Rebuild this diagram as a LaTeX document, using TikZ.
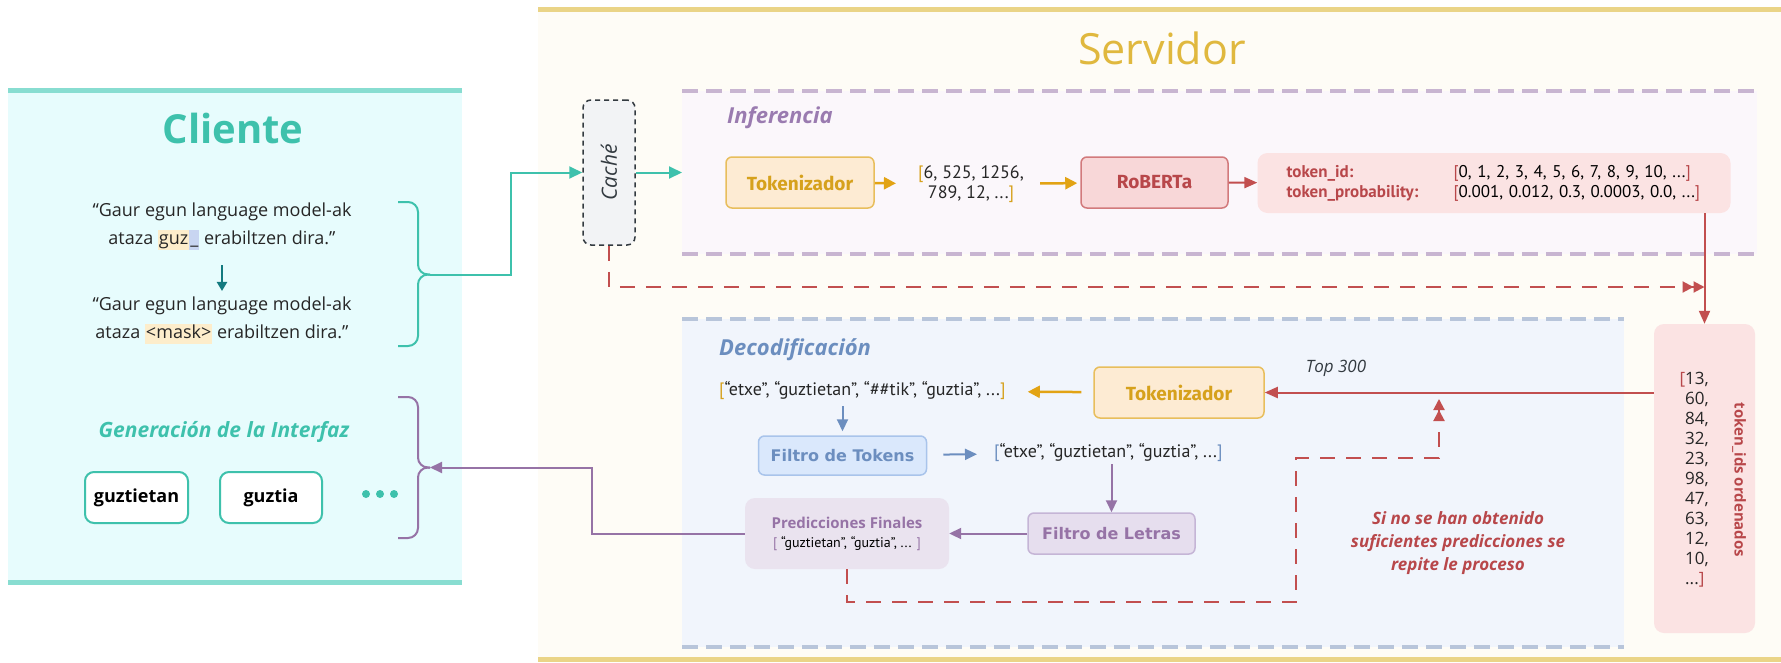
\documentclass[tikz,border=0pt]{standalone}
\usepackage{fontspec}
\setmainfont{Open Sans}
\newfontfamily\narrowfont{PT Sans}
\newfontfamily\boxfont{Fira Sans}
\newfontfamily\widefont{DejaVu Sans}
\usepackage{tikz}
\usetikzlibrary{arrows.meta}
\usetikzlibrary{positioning}
\definecolor{clienteteal}{HTML}{3EC1AC}
\definecolor{clientefill}{HTML}{E7FCFD}
\definecolor{clienteline}{HTML}{88DDD1}
\definecolor{darkteal}{HTML}{137A7F}
\definecolor{servgold}{HTML}{E0B83E}
\definecolor{servline}{HTML}{EAD487}
\definecolor{servfill}{HTML}{FEFCF6}
\definecolor{inferline}{HTML}{C8B5D1}
\definecolor{inferfill}{HTML}{FBF7FB}
\definecolor{infertext}{HTML}{9A7BB0}
\definecolor{decoline}{HTML}{B8C5DA}
\definecolor{decofill}{HTML}{F1F5FC}
\definecolor{decotext}{HTML}{6C8EBF}
\definecolor{tokfill}{HTML}{FDEBD3}
\definecolor{tokline}{HTML}{E8BE5C}
\definecolor{toktext}{HTML}{D6A11C}
\definecolor{tokarrow}{HTML}{E2A314}
\definecolor{robfill}{HTML}{F8D7D8}
\definecolor{robline}{HTML}{D27A7C}
\definecolor{mydarkred}{HTML}{B8474A}
\definecolor{redarrow}{HTML}{C24F4F}
\definecolor{outfill}{HTML}{FBE3E3}
\definecolor{ftokfill}{HTML}{DAE8FC}
\definecolor{ftokline}{HTML}{A9C4EB}
\definecolor{letrafill}{HTML}{E6DEEE}
\definecolor{letraline}{HTML}{C5B5D6}
\definecolor{mypurple}{HTML}{9673A6}
\definecolor{predfill}{HTML}{EAE3EF}
\definecolor{cachefill}{HTML}{F2F3F5}
\definecolor{darkgrey}{HTML}{333A40}
\definecolor{hlorange}{HTML}{FDEDCB}
\definecolor{hlblue}{HTML}{C8D5F1}
\newcommand{\fsize}[2]{\fontsize{#1}{#2}\selectfont}
\newcommand{\marca}[2]{{\setlength{\fboxsep}{1pt}\colorbox{#1}{\vphantom{Ag}#2}}}
\newcommand{\lista}[2]{{\color{#1}[}#2{\color{#1}]}}
\newcommand{\etiqueta}[1]{\makebox[167pt][l]{\color{mydarkred}\bfseries #1}}
\tikzset{
    panel/.style={inner sep=0pt, outer sep=0pt},
    panelline/.style={line width=3.5pt, dash pattern=on 16pt off 8pt},
    roundbox/.style={draw, rounded corners=6pt, line width=1.5pt, inner sep=0pt, align=center},
    tokbox/.style={roundbox, fill=tokfill, draw=tokline, text=toktext, font=\boxfont\bfseries\fsize{19}{22}, minimum height=51pt},
    robbox/.style={roundbox, fill=robfill, draw=robline, text=mydarkred, font=\boxfont\bfseries\fsize{19}{22}, minimum width=147pt, minimum height=51pt},
    filterbox/.style={roundbox, font=\widefont\bfseries\fsize{16}{20}},
    softbox/.style={rounded corners=10pt, inner sep=0pt, align=center},
    btn/.style={draw=clienteteal, line width=2pt, fill=white, rounded corners=9pt, minimum height=51pt, font=\bfseries\fsize{18}{22}},
    sentence/.style={align=center, font=\fsize{18}{28}, text=black!85},
    listtext/.style={font=\narrowfont\fsize{18}{20}, text=black!85, inner sep=0pt, align=center},
    tealline/.style={draw=clienteteal, line width=2pt},
    tealarrow/.style={tealline, -{Triangle[length=13pt,width=12pt]}},
    purpleline/.style={draw=mypurple, line width=2pt},
    purplearrow/.style={purpleline, -{Triangle[length=12pt,width=11pt]}},
    bluearrow/.style={draw=decotext, line width=2pt, -{Triangle[length=12pt,width=11pt]}},
    yellowarrow/.style={draw=tokarrow, line width=2.5pt, -{Triangle[length=12pt,width=12pt]}},
    redarrowstyle/.style={draw=redarrow, line width=2pt, -{Triangle[length=13pt,width=11pt]}},
    reddash/.style={draw=redarrow, line width=2pt, dash pattern=on 15pt off 11pt, -{Triangle[length=11pt,width=11pt]Triangle[length=11pt,width=11pt]}},
    cachebox/.style={draw=darkgrey, fill=cachefill, line width=1.5pt, dash pattern=on 5pt off 4pt, rounded corners=8pt, inner sep=0pt, font=\itshape\fsize{21}{21}, text=darkgrey}
}
\begin{document}
\begin{tikzpicture}[x=1pt, y=-1pt]
\useasboundingbox[fill=white] (0,0) rectangle (1781,662);

\node[panel, fill=clientefill, minimum width=454pt, minimum height=492pt] (cliente) at (235,336) {};
\draw[clienteline, line width=5pt] (cliente.north west) -- (cliente.north east) (cliente.south west) -- (cliente.south east);
\node[panel, fill=servfill, minimum width=1243pt, minimum height=650pt] (servidor) at (1159.5,334) {};
\draw[servline, line width=5pt] (servidor.north west) -- (servidor.north east) (servidor.south west) -- (servidor.south east);
\node[panel, fill=inferfill, minimum width=1075pt, minimum height=163pt] (inferencia) at (1219.5,172.5) {};
\draw[panelline, inferline] (inferencia.north west) -- (inferencia.north east) (inferencia.south west) -- (inferencia.south east);
\node[panel, fill=decofill, minimum width=942pt, minimum height=328pt] (decodif) at (1153,483) {};
\draw[panelline, decoline] (decodif.north west) -- (decodif.north east) (decodif.south west) -- (decodif.south east);

\node[font=\bfseries\fsize{40}{40}, text=clienteteal] (clientetitle) at (233,128) {Cliente};
\node[font=\fsize{43}{43}, text=servgold] (servtitle) at (1162,48) {Servidor};
\node[font=\bfseries\itshape\fsize{22}{22}, text=infertext, anchor=west, inner sep=0pt] (infertitle) at (727,118) {Inferencia};
\node[font=\bfseries\itshape\fsize{22}{22}, text=decotext, anchor=west, inner sep=0pt] (decotitle) at (719,350) {Decodificación};

\node[sentence] (frase1) at (222,226) {“Gaur egun language model-ak\\ataza \marca{hlorange}{guz}\marca{hlblue}{\_} erabiltzen dira.”};
\node[sentence] (frase2) at (222,320) {“Gaur egun language model-ak\\ataza \marca{hlorange}{<mask>} erabiltzen dira.”};
\draw[darkteal, line width=2.5pt, -{Triangle[length=9pt,width=10pt]}, shorten <=12pt, shorten >=2pt] (frase1) -- (frase2);

\node[font=\bfseries\itshape\fsize{21}{21}, text=clienteteal] (generacion) at (224,432) {Generación de la Interfaz};
\node[btn, minimum width=103pt] (btn1) at (136.5,497.5) {guztietan};
\node[btn, minimum width=102pt, right=30pt of btn1] (btn2) {guztia};
\foreach \dx in {366,380,394}
    \fill[clienteteal] (\dx,494) circle (4pt);

\coordinate (c1top) at (398,202);
\coordinate (c1bot) at (398,346);
\coordinate (c1tip) at (430,274.5);
\coordinate (c1bend) at (511,172.5);
\draw[tealline, rounded corners=10pt] (c1top) -| (418,274.5) -- (c1tip);
\draw[tealline, rounded corners=10pt] (c1bot) -| (418,274.5) -- (c1tip);

\coordinate (c2top) at (398,397);
\coordinate (c2bot) at (398,538);
\coordinate (c2tip) at (430,467.5);
\coordinate (c2bend) at (592,467.5);
\draw[purpleline, rounded corners=10pt] (c2top) -| (418,467.5) -- (c2tip);
\draw[purpleline, rounded corners=10pt] (c2bot) -| (418,467.5) -- (c2tip);

\node[cachebox, minimum width=52pt, minimum height=145pt] (cache) at (609,172.5) {\rotatebox{90}{Caché}};

\node[tokbox, minimum width=148pt] (tok1) at (800,182.5) {Tokenizador};
\node[listtext] (ids1) at (971,184) {{\color{toktext}[}6, 525, 1256,\\789, 12, ...{\color{toktext}]}};
\node[robbox] (roberta) at (1154.5,182.5) {RoBERTa};
\node[softbox, fill=outfill, minimum width=473pt, minimum height=60pt, text width=415pt, align=left, font=\narrowfont\fsize{17}{20}] (salida) at (1494,183) {%
    \etiqueta{token\_id:}\lista{mydarkred}{0, 1, 2, 3, 4, 5, 6, 7, 8, 9, 10, ...}\\
    \etiqueta{token\_probability:}\lista{mydarkred}{0.001, 0.012, 0.3, 0.0003, 0.0, ...}};

\node[softbox, fill=outfill, minimum width=101pt, minimum height=309pt] (ids) at (1704.5,478.5) {};
\node[font=\fsize{17}{20}, text=black!85, align=left, inner sep=0pt] (idlist) at (1697,480) {\llap{\color{mydarkred}[}13,\\60,\\84,\\32,\\23,\\98,\\47,\\63,\\12,\\10,\\...{\color{mydarkred}]}};
\node[font=\bfseries\fsize{15}{15}, text=mydarkred] (idlabel) at (1739,480) {\rotatebox{-90}{token\_ids ordenados}};

\node[tokbox, minimum width=170pt] (tok2) at (1179,392.5) {Tokenizador};
\node[listtext, anchor=west] (lista1) at (719,391) {{\color{toktext}[}“etxe”, “guztietan”, “\#\#tik”, “guztia”, ...{\color{toktext}]}};
\node[filterbox, fill=ftokfill, draw=ftokline, text=decotext, minimum width=168pt, minimum height=39pt] (ftokens) at (842.5,455.5) {Filtro de Tokens};
\node[listtext, anchor=west] (lista2) at (994,453) {{\color{decotext}[}“etxe”, “guztietan”, “guztia”, ...{\color{decotext}]}};
\node[filterbox, fill=letrafill, draw=letraline, text=mypurple, minimum width=167pt, minimum height=41pt] (fletras) at (1111.5,533.5) {Filtro de Letras};
\node[softbox, fill=predfill, minimum width=204pt, minimum height=71pt] (pred) at (847,533.5) {\textcolor{mypurple}{\bfseries\fsize{15}{17}Predicciones Finales}\\[7pt]{\narrowfont\fsize{14}{15}\lista{mypurple}{ “guztietan”, “guztia”, ... }}};
\node[font=\itshape\fsize{17}{17}, text=darkgrey] (top) at (1336,368) {Top 300};
\node[font=\bfseries\itshape\fsize{17}{23}, text=mydarkred, align=center] (aviso) at (1458,543) {Si no se han obtenido\\suficientes predicciones se\\repite le proceso};

\coordinate (merge) at (1704.5,287);
\coordinate (loopb) at (1296,602);
\coordinate (loopc) at (1296,458);
\coordinate (retry) at (1439,399);

\draw[tealarrow] (c1tip) -| (c1bend) -- (cache.west);
\draw[tealarrow] (cache.east) -- (cache.east -| inferencia.west);
\draw[yellowarrow, shorten >=22pt] (tok1) -- (ids1);
\draw[yellowarrow, shorten <=16pt, shorten >=3pt] (ids1) -- (roberta);
\draw[redarrowstyle] (roberta) -- (salida);
\draw[redarrowstyle] (salida.south -| ids.north) -- (ids.north);
\draw[reddash] (cache.south) |- (merge);
\draw[redarrowstyle] (ids.west |- tok2.east) -- (tok2.east);
\draw[yellowarrow, shorten <=12pt, shorten >=22pt] (tok2) -- (lista1);
\draw[bluearrow, shorten <=6pt, shorten >=4pt] (lista1.south -| ftokens.north) -- (ftokens.north);
\draw[bluearrow, shorten <=16pt, shorten >=17pt] (ftokens) -- (lista2);
\draw[purplearrow, shorten <=2pt] (lista2.south -| fletras.north) -- (fletras.north);
\draw[purplearrow] (fletras) -- (pred);
\draw[purplearrow] (pred.west) -| (c2bend) -- (c2tip);
\draw[reddash] (pred.south) |- (loopb) -- (loopc) -| (retry);
\end{tikzpicture}
\end{document}
